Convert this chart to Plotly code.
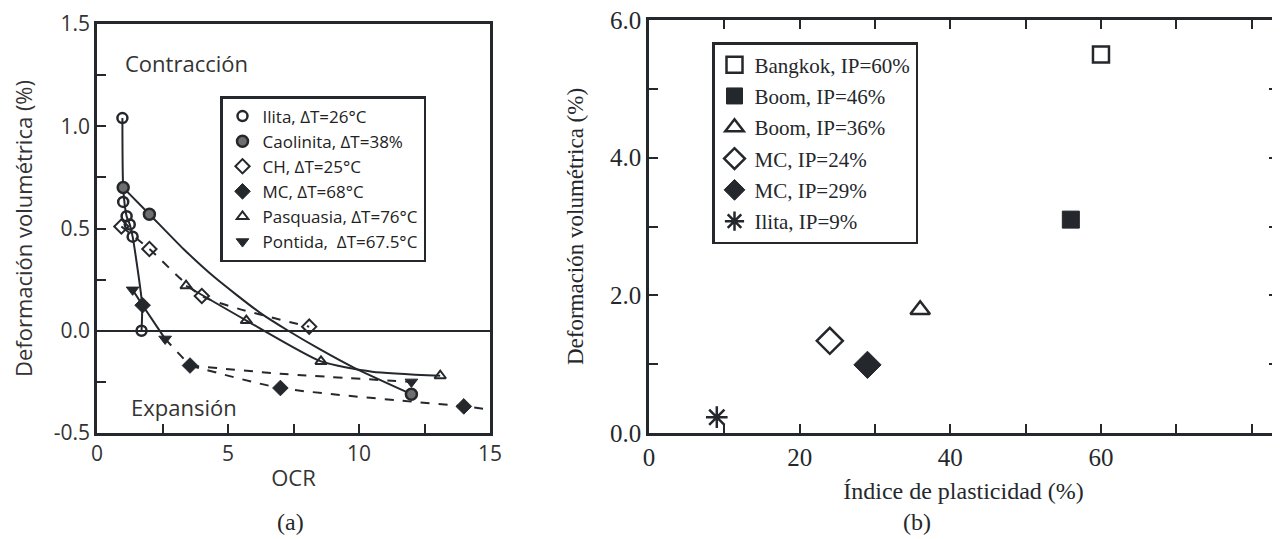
import plotly.graph_objects as go

# ---------------- Panel (a) data ----------------
ilita_x = [0.97, 1.0, 1.13, 1.25, 1.36, 1.70]
ilita_y = [1.04, 0.63, 0.56, 0.52, 0.46, 0.0]
caol_x = [1.0, 2.0, 12.0]
caol_y = [0.70, 0.57, -0.31]
ch_x = [0.93, 2.0, 4.0, 8.1]
ch_y = [0.51, 0.40, 0.17, 0.02]
mc_x = [1.74, 3.55, 7.0, 14.0]
mc_y = [0.125, -0.17, -0.28, -0.37]
pasq_x = [3.4, 5.7, 8.55, 13.1]
pasq_y = [0.22, 0.05, -0.15, -0.22]
pont_x = [1.36, 2.6, 12.0]
pont_y = [0.20, -0.04, -0.25]

# trend curves
ilita_fit_x = [0.97, 1.0, 1.13, 1.25, 1.36, 1.72, 1.70]
ilita_fit_y = [1.04, 0.70, 0.56, 0.52, 0.46, 0.13, 0.0]
caol_fit_x = [1.0, 2.0, 3.3, 4.5, 6.2, 7.3, 8.5, 9.8, 12.0]
caol_fit_y = [0.70, 0.57, 0.40, 0.26, 0.09, 0.0, -0.09, -0.18, -0.31]
ch_fit_x = [0.93, 2.0, 4.0, 8.1]
ch_fit_y = [0.51, 0.40, 0.17, 0.02]
pasq_fit_x = [3.4, 5.7, 8.55, 10.5, 13.1]
pasq_fit_y = [0.22, 0.05, -0.15, -0.20, -0.22]
mcp_solid_x = [1.36, 1.74, 2.6]
mcp_solid_y = [0.20, 0.125, -0.04]
mcp_dash_x = [2.6, 3.55]
mcp_dash_y = [-0.04, -0.17]
pont_fit_x = [3.55, 7.0, 12.0]
pont_fit_y = [-0.17, -0.21, -0.25]
mc_fit_x = [3.55, 7.0, 14.0, 15.0]
mc_fit_y = [-0.17, -0.28, -0.37, -0.385]

a_xticks = [0, 5, 10, 15]
a_yticks = [-0.5, 0.0, 0.5, 1.0, 1.5]
a_ytext = ["-0.5", "0.0", "0.5", "1.0", "1.5"]

names_a = ["Ilita, \u0394T=26\u00b0C", "Caolinita, \u0394T=38%", "CH, \u0394T=25\u00b0C",
           "MC, \u0394T=68\u00b0C", "Pasquasia, \u0394T=76\u00b0C", "Pontida,  \u0394T=67.5\u00b0C"]

# ---------------- Panel (b) data ----------------
names_b = ["Bangkok, IP=60%", "Boom, IP=46%", "Boom, IP=36%", "MC, IP=24%", "MC, IP=29%", "Ilita, IP=9%"]
ip = [60, 56, 36, 24, 29, 9]
dv = [5.5, 3.1, 1.79, 1.34, 0.99, 0.23]

b_xticks = [0, 10, 20, 30, 40, 50, 60, 70, 80]
b_xtext = ["0", "", "20", "", "40", "", "60", "", ""]
b_yticks = [0, 1, 2, 3, 4, 5, 6]
b_ytext = ["0.0", "", "2.0", "", "4.0", "", "6.0"]

DARK = "#24282c"
SANS = "Open Sans"
SERIF = "Liberation Serif"

# page is offset by the default 8px body margin
W, H, OFF = 1272, 531, 8
def px(x):
    return (x - OFF) / W
def py(y):
    return 1 - (y - OFF) / H

fig = go.Figure()

def line(x, y, dash="solid"):
    fig.add_trace(go.Scatter(x=x, y=y, mode="lines", line=dict(color=DARK, width=2, dash=dash, shape="spline", smoothing=0.6),
                             showlegend=False, hoverinfo="skip", xaxis="x", yaxis="y"))

line(ilita_fit_x, ilita_fit_y)
line(caol_fit_x, caol_fit_y)
line(ch_fit_x, ch_fit_y, "dash")
line(pasq_fit_x, pasq_fit_y)
line(mcp_solid_x, mcp_solid_y)
line(mcp_dash_x, mcp_dash_y, "dash")
line(pont_fit_x, pont_fit_y, "dash")
line(mc_fit_x, mc_fit_y, "dash")

styles_a = [
    dict(symbol="circle-open", color=DARK, size=10, line=dict(width=2.5, color=DARK)),
    dict(symbol="circle", color="#6e6e6e", size=11, line=dict(width=2.5, color=DARK)),
    dict(symbol="diamond-open", color=DARK, size=11, line=dict(width=2, color=DARK)),
    dict(symbol="diamond", color=DARK, size=12, line=dict(width=1, color=DARK)),
    dict(symbol="triangle-up-open", color=DARK, size=10, line=dict(width=2, color=DARK)),
    dict(symbol="triangle-down", color=DARK, size=11, line=dict(width=1, color=DARK)),
]
data_a = [(ilita_x, ilita_y), (caol_x, caol_y), (ch_x, ch_y), (mc_x, mc_y), (pasq_x, pasq_y), (pont_x, pont_y)]
for i, ((x, y), nm, st) in enumerate(zip(data_a, names_a, styles_a)):
    fig.add_trace(go.Scatter(x=x, y=y, mode="markers", name=nm, marker=st, xaxis="x", yaxis="y",
                             legend="legend", legendgroup="a%d" % i))

styles_b = [
    dict(symbol="square-open", color=DARK, size=16, line=dict(width=2.5, color=DARK)),
    dict(symbol="square", color=DARK, size=17, line=dict(width=1, color=DARK)),
    dict(symbol="triangle-up-open", color=DARK, size=17, line=dict(width=2.5, color=DARK)),
    dict(symbol="diamond-open", color=DARK, size=20, line=dict(width=2.5, color=DARK)),
    dict(symbol="diamond", color=DARK, size=21, line=dict(width=1, color=DARK)),
    dict(symbol="asterisk-open", color=DARK, size=18, line=dict(width=2.5, color=DARK)),
]
for i, (nm, x, y, st) in enumerate(zip(names_b, ip, dv, styles_b)):
    fig.add_trace(go.Scatter(x=[x], y=[y], mode="markers", name=nm, marker=st, xaxis="x2", yaxis="y2",
                             legend="legend2", legendgroup="b%d" % i))

axis_common = dict(showline=True, linewidth=2.5, linecolor=DARK, ticks="inside", ticklen=9,
                   tickwidth=2, tickcolor=DARK, showgrid=False, automargin=False,
                   ticklabeloverflow="allow")

fig.update_layout(
    width=W, height=H, margin=dict(l=0, r=0, t=0, b=0, autoexpand=False),
    paper_bgcolor="white", plot_bgcolor="white", showlegend=True,
    xaxis=dict(domain=[px(97), px(490)], range=[0, 15], tickvals=a_xticks, mirror=True,
               minor=dict(ticks="inside", tickvals=[2.5, 7.5, 12.5], ticklen=9, tickwidth=2, tickcolor=DARK),
               tickfont=dict(family=SANS, size=21, color="#333"), zeroline=False,
               title=dict(text="OCR", font=dict(family=SANS, size=22, color="#333"), standoff=5),
               anchor="y", **axis_common),
    yaxis=dict(domain=[py(433), py(24)], range=[-0.5, 1.5], tickvals=a_yticks, ticktext=a_ytext, mirror=True,
               minor=dict(ticks="inside", tickvals=[-0.25, 0.25, 0.75, 1.25], ticklen=9, tickwidth=2, tickcolor=DARK),
               tickfont=dict(family=SANS, size=21, color="#333"),
               zeroline=True, zerolinecolor=DARK, zerolinewidth=2,
               title=dict(text="Deformación volumétrica (%)", font=dict(family=SANS, size=22, color="#333"), standoff=19),
               anchor="x", **axis_common),
    xaxis2=dict(domain=[px(649), px(1278)], range=[0, 83.5], tickvals=b_xticks, ticktext=b_xtext, mirror="ticks",
                tickfont=dict(family=SERIF, size=25, color=DARK), zeroline=False,
                title=dict(text="Índice de plasticidad (%)", font=dict(family=SERIF, size=24, color=DARK), standoff=13),
                anchor="y2", **axis_common),
    yaxis2=dict(domain=[py(433), py(20)], range=[0, 6], tickvals=b_yticks, ticktext=b_ytext, mirror="ticks",
                tickfont=dict(family=SERIF, size=25, color=DARK), zeroline=False,
                title=dict(text="Deformación volumétrica (%)", font=dict(family=SERIF, size=23, color=DARK), standoff=20),
                anchor="x2", **axis_common),
    legend=dict(x=px(220), y=py(96), xanchor="left", yanchor="top", bgcolor="white",
                bordercolor=DARK, borderwidth=2.5, font=dict(family=SANS, size=17, color="#222"),
                tracegroupgap=0, itemwidth=30),
    legend2=dict(x=px(712), y=py(42), xanchor="left", yanchor="top", bgcolor="white",
                 bordercolor=DARK, borderwidth=2.5, font=dict(family=SERIF, size=21, color=DARK),
                 tracegroupgap=1, itemwidth=30),
    annotations=[
        dict(text="Contracción", x=px(186), y=py(63), xref="paper", yref="paper", showarrow=False,
             xanchor="center", yanchor="middle", font=dict(family=SANS, size=22, color="#333")),
        dict(text="Expansión", x=px(184), y=py(407), xref="paper", yref="paper", showarrow=False,
             xanchor="center", yanchor="middle", font=dict(family=SANS, size=22, color="#333")),
        dict(text="(a)", x=px(290), y=py(522), xref="paper", yref="paper", showarrow=False,
             xanchor="center", yanchor="middle", font=dict(family=SERIF, size=24, color=DARK)),
        dict(text="(b)", x=px(917), y=py(522), xref="paper", yref="paper", showarrow=False,
             xanchor="center", yanchor="middle", font=dict(family=SERIF, size=24, color=DARK)),
    ],
)

fig.write_html("out.html")
